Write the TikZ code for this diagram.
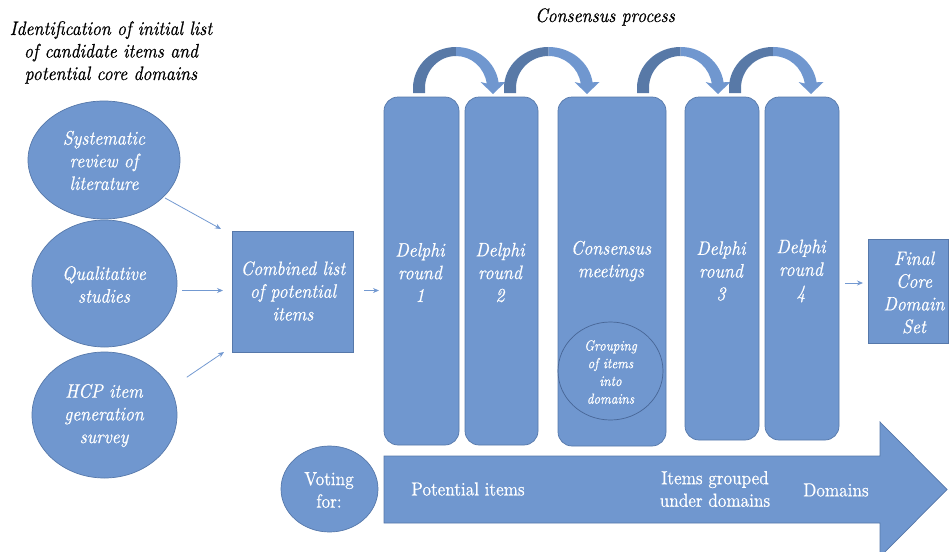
\documentclass[tikz,border=0pt]{standalone}
\usepackage{fontspec}
\setmainfont{lmroman10}[Extension=.otf,UprightFont=*-regular,ItalicFont=*-italic,BoldFont=*-bold,BoldItalicFont=*-bolditalic,FakeStretch=0.9,FakeBold=0.6]
\usetikzlibrary{shapes.geometric,arrows.meta,calc}
\definecolor{boxblue}{RGB}{112,151,207}
\definecolor{boxedge}{RGB}{86,120,170}
\definecolor{foldblue}{RGB}{88,121,167}
\definecolor{connblue}{RGB}{115,153,209}
\definecolor{grpedge}{RGB}{72,102,150}
\newcommand\uarrow[2]{%
  \pgfmathsetmacro\uacx{(#1+6+#2)/2}%
  \pgfmathsetmacro\uaro{(#2-#1-6)/2+6}%
  \pgfmathsetmacro\uari{(#2-#1-6)/2-6}%
  \pgfmathsetmacro\uaix{\uacx+\uari*cos(8)}%
  \pgfmathsetmacro\uaiy{88-32*sin(8)}%
  \fill[foldblue] (#1,93) -- (#1,88) arc[start angle=180,end angle=90,x radius=\uaro*1pt,y radius=41pt]
     -- (\uacx,56) arc[start angle=90,end angle=180,x radius=\uari*1pt,y radius=32pt] -- (#1+12,93) -- cycle;
  \fill[boxblue] (\uacx,47) arc[start angle=90,end angle=8,x radius=\uaro*1pt,y radius=41pt]
     -- (#2+12.5,82) -- (#2,94) -- (#2-12.5,82) -- (\uaix,\uaiy)
     arc[start angle=8,end angle=90,x radius=\uari*1pt,y radius=32pt] -- cycle;
}
\begin{document}
\begin{tikzpicture}[x=1pt,y=-1pt,
  shapebox/.style={fill=boxblue,draw=boxedge,line width=0.7pt,inner sep=0pt,outer sep=0pt},
  roundbox/.style={shapebox,rectangle,rounded corners=14pt},
  sqbox/.style={shapebox,rectangle},
  oval/.style={shapebox,ellipse},
  wtext/.style={text=white,font=\fontsize{19.5}{22.7}\selectfont\itshape,align=center,inner sep=0pt},
  smalltext/.style={text=white,font=\fontsize{14.5}{17.7}\selectfont\itshape,align=center,inner sep=0pt},
  uptext/.style={text=white,font=\fontsize{19}{22.5}\selectfont,align=center,inner sep=0pt},
  btext/.style={text=black,font=\fontsize{19.5}{22.5}\selectfont\itshape,align=center,inner sep=0pt},
  conn/.style={draw=connblue,line width=0.8pt,-{Stealth[length=6pt,width=5pt]}}
]
\useasboundingbox (0,0) rectangle (949,551);
\clip (0,0) rectangle (949,551);

% titles
\node[btext] (title) at (111,52.5) {Identification of initial list\\of candidate items and\\potential core domains};
\node[btext] (cptitle) at (605,17) {Consensus process};

% source ellipses
\node[oval,minimum width=152pt,minimum height=118pt] (e1) at (104,160) {};
\node[oval,minimum width=145pt,minimum height=127pt] (e2) at (104.5,283.5) {};
\node[oval,minimum width=145pt,minimum height=126pt] (e3) at (104.5,415) {};
\node[wtext] (e1t) at (104,160.5) {Systematic\\review of\\literature};
\node[wtext] (e2t) at (104,284.5) {Qualitative\\studies};
\node[wtext] (e3t) at (104,415.5) {HCP item\\generation\\survey};

% combined list
\node[sqbox,minimum width=121pt,minimum height=121pt] (comb) at (292.5,291.5) {};
\node[wtext] (combt) at (293,291) {Combined list\\of potential\\items};

% curved arrows
\uarrow{413}{493}
\uarrow{504}{587}
\uarrow{637}{718}
\uarrow{729}{811}

% consensus boxes
\node[roundbox,minimum width=75pt,minimum height=348pt] (d1) at (421.5,271) {};
\node[roundbox,minimum width=73pt,minimum height=348pt] (d2) at (501.5,271) {};
\node[roundbox,minimum width=108pt,minimum height=349pt] (cm) at (612,271.5) {};
\node[roundbox,minimum width=74pt,minimum height=343pt] (d3) at (722,268.5) {};
\node[roundbox,minimum width=74pt,minimum height=343pt] (d4) at (802,268.5) {};
\node[wtext] (d1t) at (420,272.5) {Delphi\\round\\1};
\node[wtext] (d2t) at (500,272.5) {Delphi\\round\\2};
\node[wtext] (cmt) at (611,261) {Consensus\\meetings};
\node[wtext] (d3t) at (721,271) {Delphi\\round\\3};
\node[wtext] (d4t) at (801,271) {Delphi\\round\\4};

\node[ellipse,draw=grpedge,line width=0.7pt,minimum width=105pt,minimum height=98pt,inner sep=0pt] (grp) at (610.5,371) {};
\node[smalltext] (grpt) at (610.5,372) {Grouping\\of items\\into\\domains};

% final
\node[sqbox,minimum width=80pt,minimum height=104pt] (fin) at (908,291) {};
\node[wtext] (fint) at (914,292.5) {Final\\Core\\Domain\\Set};

% connectors
\draw[conn,shorten <=2pt] (e1.328) -- ($(comb.north west)+(-11,-2)$);
\draw[conn] ($(e2.east |- comb.west)+(5,-1)$) -- ($(comb.west)+(-9,-1)$);
\draw[conn,shorten <=20pt] (e3.22) -- ($(comb.south west)+(-8,0)$);
\draw[conn] ($(comb.east)+(11,-1)$) -- ($(comb.east -| d1.west)+(-5,-1)$);
\draw[conn] ($(d4.east |- fin.west)+(6,-8)$) -- ($(fin.west)+(-5,-8)$);

% voting
\node[oval,minimum width=97pt,minimum height=86pt] (vote) at (329.5,489) {};
\node[uptext] (votet) at (329,490) {Voting\\for:};
\fill[boxblue,draw=boxedge,line width=0.7pt] (384,456) -- (880,456) -- (880,422) -- (947,489.5) -- (880,557) -- (880,523) -- (384,523) -- cycle;
\node[uptext] (pot) at (468,489) {Potential items};
\node[uptext] (igr) at (715,489) {Items grouped\\under domains};
\node[uptext] (dom) at (836,490) {Domains};
\end{tikzpicture}
\end{document}
